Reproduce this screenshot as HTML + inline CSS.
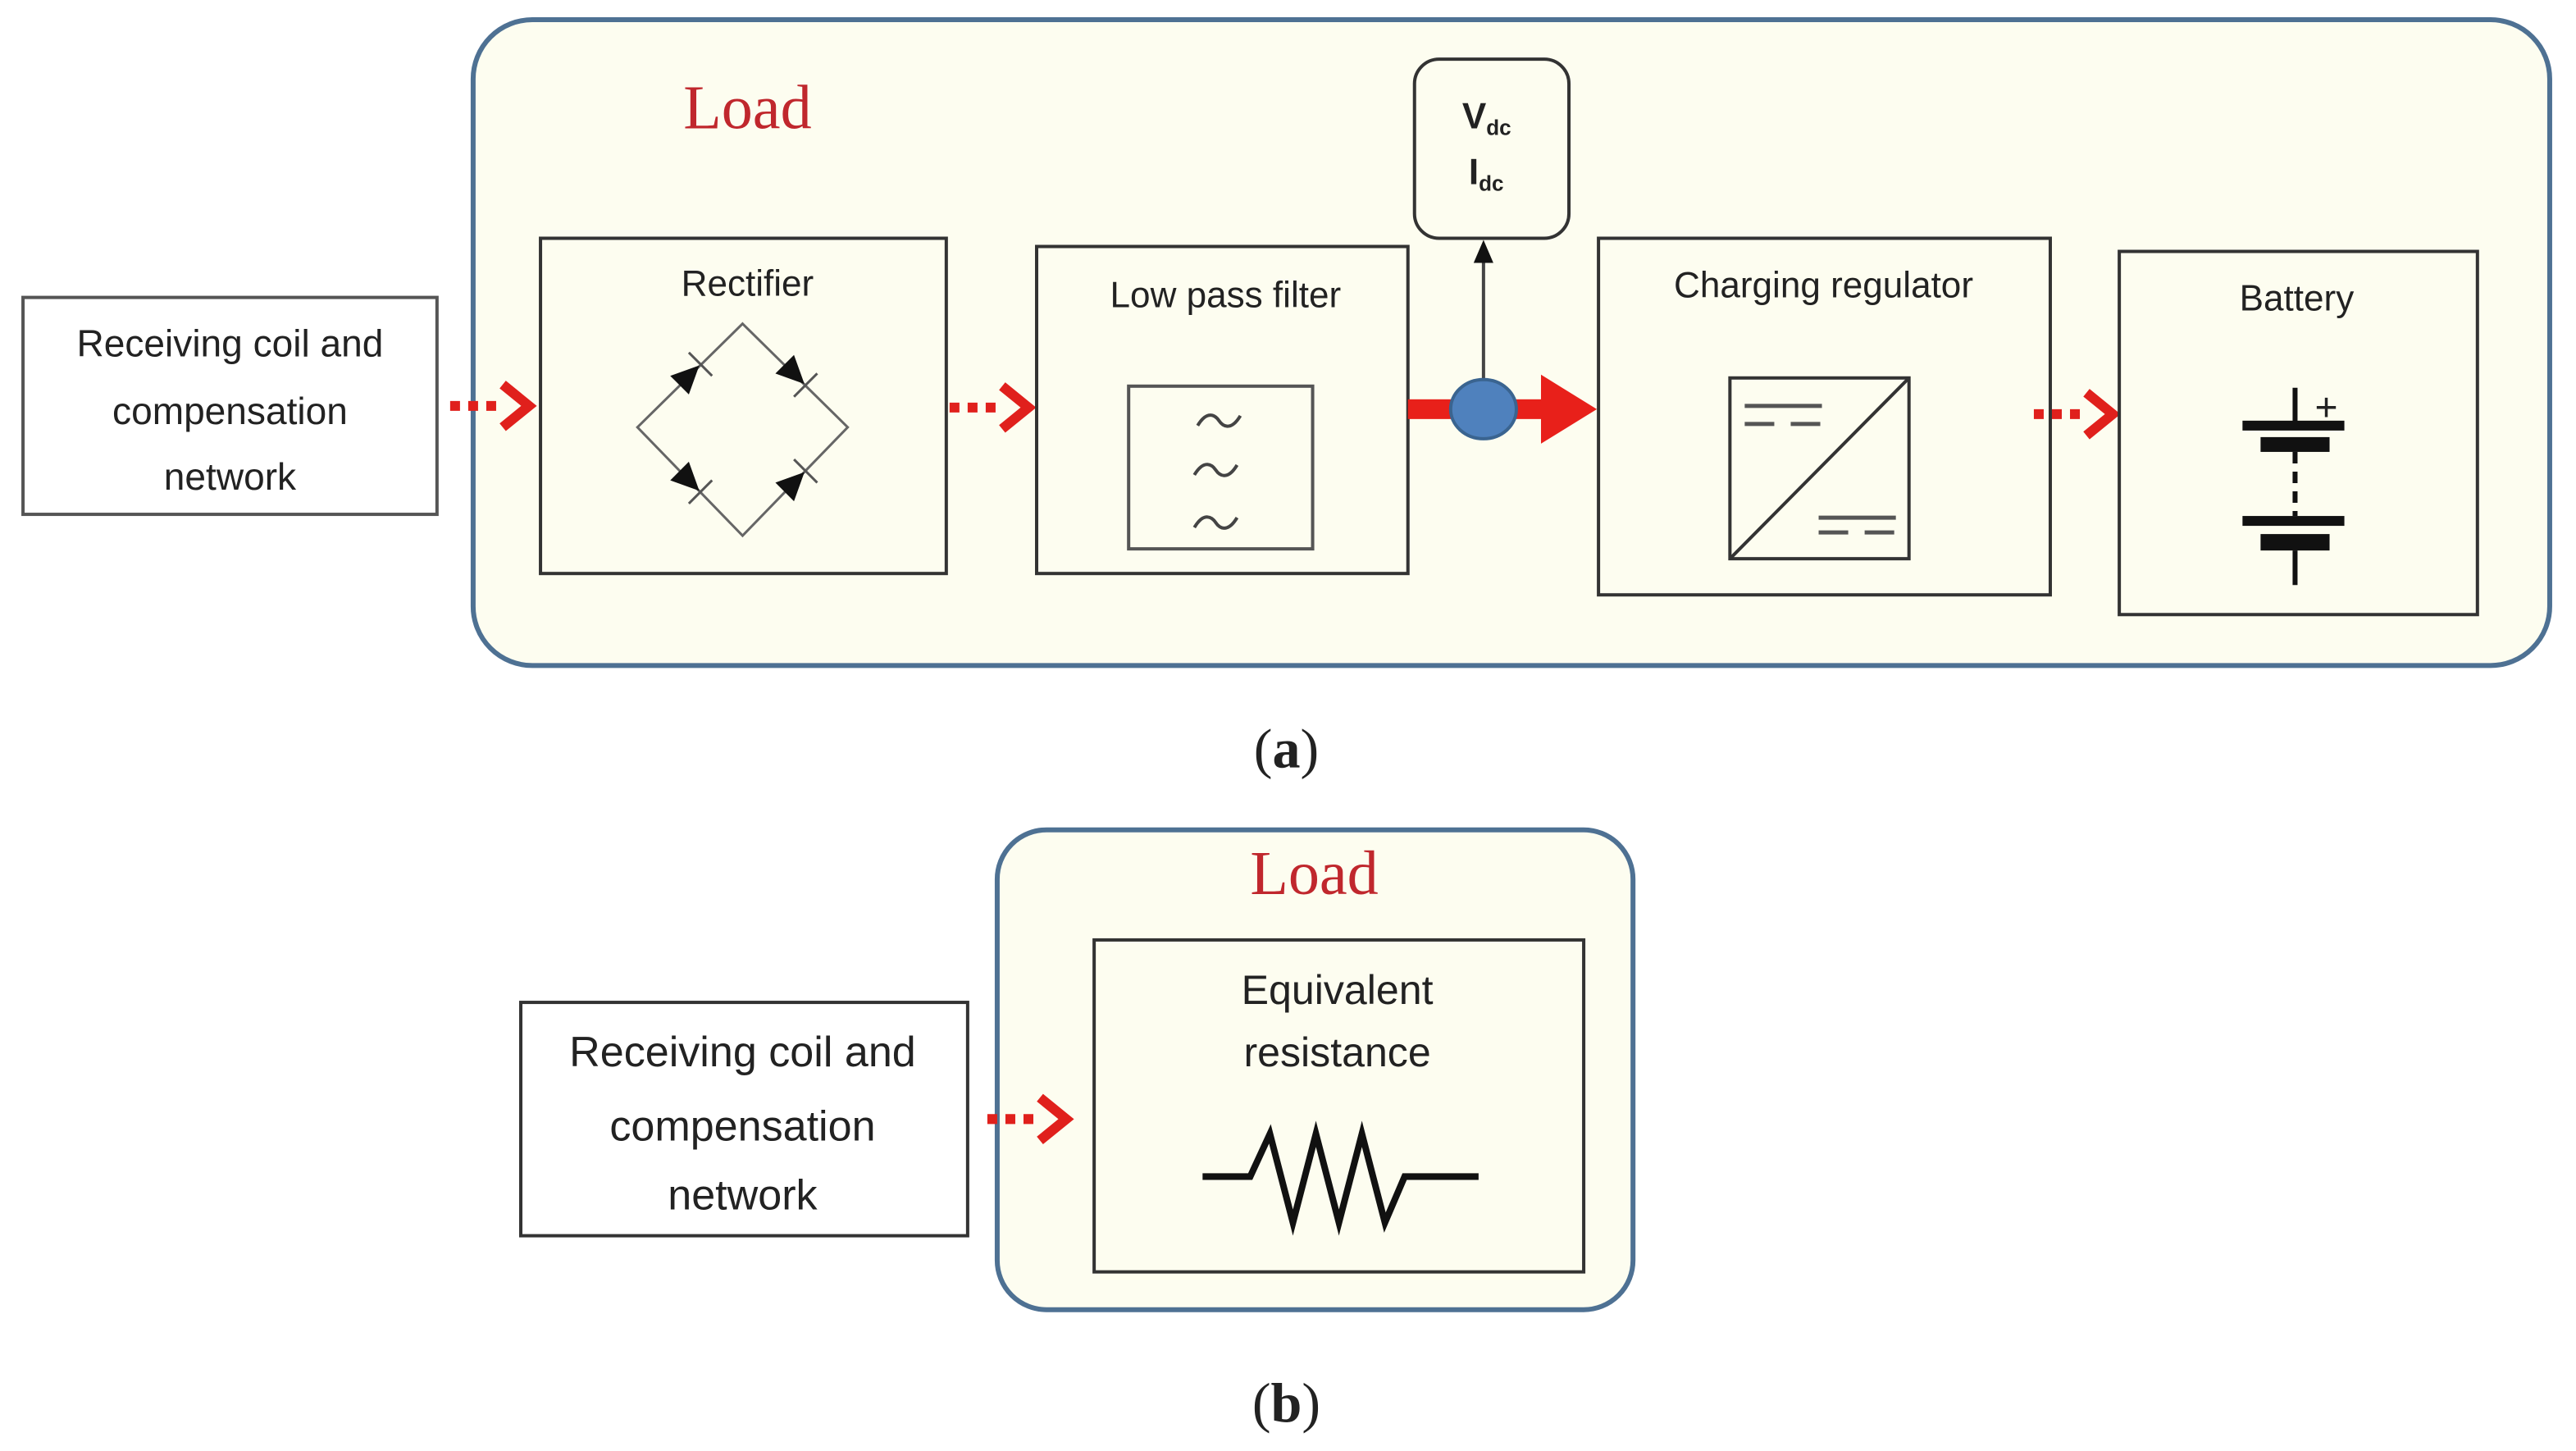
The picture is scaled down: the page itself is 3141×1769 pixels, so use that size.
<!DOCTYPE html>
<html><head><meta charset="utf-8"><style>
html,body{margin:0;padding:0;background:#fff;width:3141px;height:1769px;overflow:hidden}
svg{display:block}
text{font-family:"Liberation Sans",sans-serif;fill:#222}
.s{font-family:"Liberation Serif",serif}
</style></head><body>
<svg width="3141" height="1769" viewBox="0 0 1568 883" preserveAspectRatio="none">
<defs>
<g id="da">
<line x1="0" y1="0" x2="30" y2="0" stroke="#e0201c" stroke-width="6" stroke-dasharray="6,5"/>
<polyline points="32,-13 48,0 32,13" fill="none" stroke="#e0201c" stroke-width="6" stroke-linejoin="miter"/>
</g>
<g id="di">
<polygon points="-9,-8 -9,8 8,0" fill="#111"/>
<line x1="9" y1="-10" x2="9" y2="10" stroke="#555" stroke-width="1.5"/>
</g>
<path id="tl" d="M-13,3 C-7,-7 -2,-3 0,0 C2,3 7,7 13,-3" fill="none" stroke="#444" stroke-width="2"/>
</defs>
<rect width="1568" height="883" fill="#fff"/>
<!-- (a) -->
<rect x="288" y="12" width="1264" height="393" rx="36" fill="#fdfdf0" stroke="#4e7193" stroke-width="3"/>
<text class="s" x="455" y="78" font-size="38" text-anchor="middle" style="fill:#c0272d">Load</text>
<rect x="14" y="181" width="252" height="132" fill="#fff" stroke="#555" stroke-width="2"/>
<text x="140" y="217" font-size="23" text-anchor="middle">Receiving coil and</text>
<text x="140" y="258" font-size="23" text-anchor="middle">compensation</text>
<text x="140" y="298" font-size="23" text-anchor="middle">network</text>
<use href="#da" x="274" y="247"/>
<rect x="329" y="145" width="247" height="204" fill="#fdfdf0" stroke="#333" stroke-width="2"/>
<text x="455" y="180" font-size="22" text-anchor="middle">Rectifier</text>
<polygon points="452,197 516,260 452,326 388,260" fill="none" stroke="#666" stroke-width="1.5"/>
<use href="#di" transform="translate(420,228) rotate(-45)"/>
<use href="#di" transform="translate(484,228) rotate(45)"/>
<use href="#di" transform="translate(420,293) rotate(45)"/>
<use href="#di" transform="translate(484,293) rotate(-45)"/>
<use href="#da" x="578" y="248"/>
<rect x="631" y="150" width="226" height="199" fill="#fdfdf0" stroke="#333" stroke-width="2"/>
<text x="746" y="187" font-size="22" text-anchor="middle">Low pass filter</text>
<rect x="687" y="235" width="112" height="99" fill="#fdfdf0" stroke="#555" stroke-width="2"/>
<use href="#tl" x="742" y="256"/>
<use href="#tl" x="740" y="286"/>
<use href="#tl" x="740" y="318"/>
<rect x="861" y="36" width="94" height="109" rx="15" fill="#fdfdf0" stroke="#333" stroke-width="2"/>
<text x="890" y="78" font-size="22" font-weight="bold">V<tspan font-size="13" dy="4">dc</tspan></text>
<text x="894" y="112" font-size="22" font-weight="bold">I<tspan font-size="13" dy="4">dc</tspan></text>
<line x1="903" y1="249" x2="903" y2="158" stroke="#444" stroke-width="2"/>
<polygon points="897,160 909,160 903,146" fill="#111"/>
<rect x="857" y="243" width="85" height="12" fill="#e8201a"/>
<polygon points="938,228 972,249 938,270" fill="#e8201a"/>
<ellipse cx="903" cy="249" rx="20" ry="18" fill="#4f81bd" stroke="#3a6490" stroke-width="2"/>
<rect x="973" y="145" width="275" height="217" fill="#fdfdf0" stroke="#333" stroke-width="2"/>
<text x="1110" y="181" font-size="22" text-anchor="middle">Charging regulator</text>
<rect x="1053" y="230" width="109" height="110" fill="#fdfdf0" stroke="#333" stroke-width="2"/>
<line x1="1053" y1="340" x2="1162" y2="230" stroke="#333" stroke-width="2"/>
<line x1="1062" y1="247" x2="1109" y2="247" stroke="#555" stroke-width="2.5"/>
<line x1="1062" y1="258" x2="1109" y2="258" stroke="#555" stroke-width="2.5" stroke-dasharray="18,10"/>
<line x1="1107" y1="315" x2="1154" y2="315" stroke="#555" stroke-width="2.5"/>
<line x1="1107" y1="324" x2="1154" y2="324" stroke="#555" stroke-width="2.5" stroke-dasharray="18,10"/>
<use href="#da" x="1238" y="252"/>
<rect x="1290" y="153" width="218" height="221" fill="#fdfdf0" stroke="#333" stroke-width="2"/>
<text x="1398" y="189" font-size="22" text-anchor="middle">Battery</text>
<line x1="1397" y1="236" x2="1397" y2="258" stroke="#111" stroke-width="3"/>
<rect x="1365" y="256" width="62" height="6" fill="#111"/>
<rect x="1376" y="266" width="42" height="9" fill="#111"/>
<text x="1409" y="256" font-size="24">+</text>
<line x1="1397" y1="275" x2="1397" y2="314" stroke="#111" stroke-width="3" stroke-dasharray="7,5"/>
<rect x="1365" y="314" width="62" height="6" fill="#111"/>
<rect x="1376" y="325" width="42" height="10" fill="#111"/>
<line x1="1397" y1="335" x2="1397" y2="356" stroke="#111" stroke-width="3"/>
<text class="s" x="783" y="467" font-size="34" text-anchor="middle">(<tspan font-weight="bold">a</tspan>)</text>
<!-- (b) -->
<rect x="607" y="505" width="387" height="292" rx="30" fill="#fdfdf0" stroke="#4e7193" stroke-width="3"/>
<text class="s" x="800" y="544" font-size="38" text-anchor="middle" style="fill:#c0272d">Load</text>
<rect x="317" y="610" width="272" height="142" fill="#fff" stroke="#333" stroke-width="2"/>
<text x="452" y="649" font-size="26" text-anchor="middle">Receiving coil and</text>
<text x="452" y="694" font-size="26" text-anchor="middle">compensation</text>
<text x="452" y="736" font-size="26" text-anchor="middle">network</text>
<use href="#da" x="601" y="681"/>
<rect x="666" y="572" width="298" height="202" fill="#fdfdf0" stroke="#333" stroke-width="2"/>
<text x="814" y="611" font-size="25" text-anchor="middle">Equivalent</text>
<text x="814" y="649" font-size="25" text-anchor="middle">resistance</text>
<polyline points="732,716 761,716 773,690 787,744 801,690 815,744 829,690 843,744 855,716 900,716" fill="none" stroke="#111" stroke-width="4"/>
<text class="s" x="783" y="865" font-size="34" text-anchor="middle">(<tspan font-weight="bold">b</tspan>)</text>
</svg>
</body></html>
